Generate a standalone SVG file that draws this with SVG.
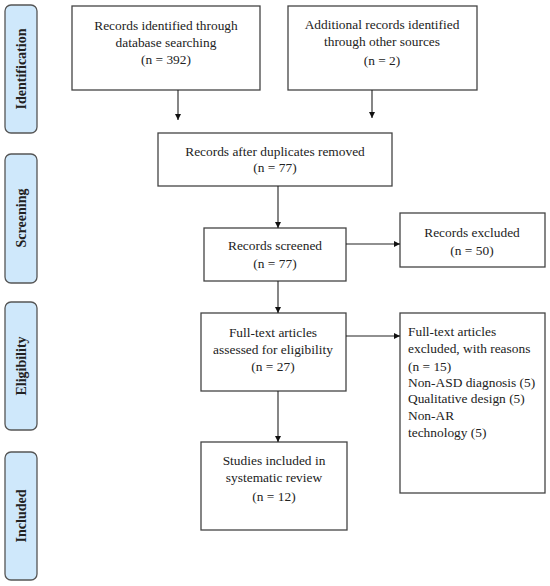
<svg xmlns="http://www.w3.org/2000/svg" width="550" height="586" viewBox="0 0 550 586">
<defs>
<marker id="ah" viewBox="0 0 10 10" refX="10" refY="5" markerWidth="6" markerHeight="6" orient="auto" markerUnits="userSpaceOnUse"><path d="M0,0 L10,5 L0,10 z" fill="#111"/></marker>
<style>
.box{fill:#fff;stroke:#444;stroke-width:1.3}
.side{fill:#cfe8fb;stroke:#555;stroke-width:1.3}
.t{font-family:"Liberation Serif",serif;font-size:13.4px;fill:#222;text-anchor:middle}
.l{font-family:"Liberation Serif",serif;font-size:13.4px;fill:#222}
.s{font-family:"Liberation Serif",serif;font-size:14px;font-weight:bold;fill:#222;text-anchor:middle}
.c{stroke:#222;stroke-width:1.1;fill:none;marker-end:url(#ah)}
</style>
</defs>
<g id="side-identification"><rect class="side" x="5" y="5" width="32" height="128" rx="6"/><text class="s" transform="translate(26,69) rotate(-90)">Identification</text></g>
<g id="side-screening"><rect class="side" x="5" y="154" width="32" height="129" rx="6"/><text class="s" transform="translate(26,218) rotate(-90)">Screening</text></g>
<g id="side-eligibility"><rect class="side" x="5" y="302" width="32" height="128" rx="6"/><text class="s" transform="translate(26,366) rotate(-90)">Eligibility</text></g>
<g id="side-included"><rect class="side" x="5" y="452" width="32" height="128" rx="6"/><text class="s" transform="translate(26,516) rotate(-90)">Included</text></g>

<g id="n1"><rect class="box" x="72" y="6" width="188" height="84"/><text class="t" x="166" y="30">Records identified through</text><text class="t" x="166" y="47">database searching</text><text class="t" x="166" y="64">(n = 392)</text></g>
<g id="n2"><rect class="box" x="288" y="6" width="189" height="84"/><text class="t" x="382" y="29">Additional records identified</text><text class="t" x="382" y="46">through other sources</text><text class="t" x="382" y="65">(n = 2)</text></g>
<g id="n3"><rect class="box" x="158" y="133" width="234" height="53"/><text class="t" x="275" y="156">Records after duplicates removed</text><text class="t" x="275" y="172">(n = 77)</text></g>
<g id="n4"><rect class="box" x="204" y="228" width="142" height="53"/><text class="t" x="275" y="250">Records screened</text><text class="t" x="275" y="268">(n = 77)</text></g>
<g id="n5"><rect class="box" x="400" y="213" width="145" height="54"/><text class="t" x="472" y="237">Records excluded</text><text class="t" x="472" y="255">(n = 50)</text></g>
<g id="n6"><rect class="box" x="201" y="313" width="145" height="78"/><text class="t" x="273" y="337">Full-text articles</text><text class="t" x="273" y="354">assessed for eligibility</text><text class="t" x="273" y="371">(n = 27)</text></g>
<g id="n7"><rect class="box" x="400" y="313" width="145" height="180"/><text class="l" x="408" y="336">Full-text articles</text><text class="l" x="408" y="353">excluded, with reasons</text><text class="l" x="408" y="371">(n = 15)</text><text class="l" x="408" y="387">Non-ASD diagnosis (5)</text><text class="l" x="408" y="403">Qualitative design (5)</text><text class="l" x="408" y="420">Non-AR</text><text class="l" x="408" y="437">technology (5)</text></g>
<g id="n8"><rect class="box" x="201" y="442" width="146" height="88"/><text class="t" x="274" y="465">Studies included in</text><text class="t" x="274" y="482">systematic review</text><text class="t" x="274" y="501">(n = 12)</text></g>

<g id="connectors">
<line class="c" x1="178" y1="90" x2="178" y2="120"/>
<line class="c" x1="372" y1="90" x2="372" y2="118"/>
<line class="c" x1="278" y1="186" x2="278" y2="228"/>
<line class="c" x1="346" y1="244" x2="400" y2="244"/>
<line class="c" x1="278" y1="281" x2="278" y2="313"/>
<line class="c" x1="346" y1="336" x2="400" y2="336"/>
<line class="c" x1="278" y1="391" x2="278" y2="442"/>
</g>
</svg>
